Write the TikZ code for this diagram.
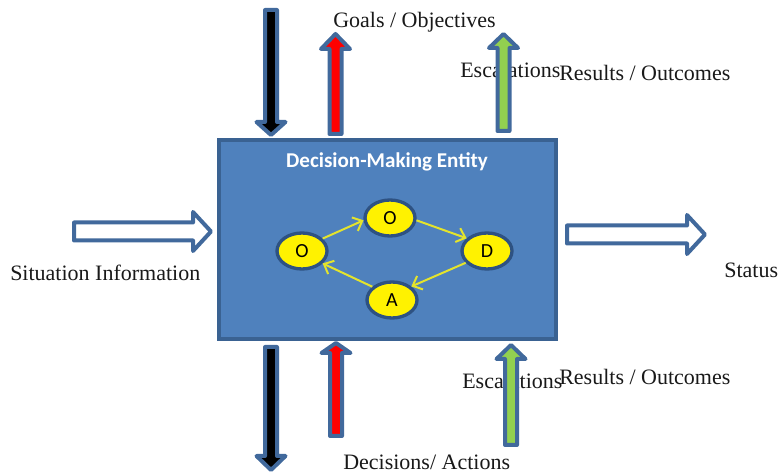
\documentclass[tikz,border=0pt]{standalone}
\usepackage{fontspec}
\setmainfont{Liberation Serif}
\newfontfamily\calibri{Carlito}
\usetikzlibrary{arrows.meta,shapes.geometric}

\definecolor{boxfill}{HTML}{4F81BD}
\definecolor{boxline}{HTML}{3A6292}
\definecolor{arrowline}{HTML}{41699C}
\definecolor{ringline}{HTML}{2E5282}
\definecolor{loopline}{HTML}{E4E42C}
\definecolor{escgreen}{HTML}{92D050}

\tikzset{
  caption/.style={font=\fontsize{16.5}{18}\selectfont, inner sep=0pt,
    anchor=base west, text=black!90},
  entity/.style={rectangle, fill=boxfill, draw=boxline, line width=3pt,
    minimum width=252.75pt, minimum height=149.25pt, inner sep=0pt},
  stage/.style={ellipse, fill=yellow, draw=ringline, line width=2.5pt,
    minimum width=37.5pt, minimum height=27pt, inner sep=0pt,
    font=\calibri\fontsize{15}{15}\selectfont},
  loop/.style={draw=loopline, line width=1.5pt,
    -{Straight Barb[length=6pt,width=11pt]}},
  blockline/.style={draw=arrowline, line width=3pt, line join=round},
  % vertical block arrow: tail y, shoulder y, tip y, fill colour
  pics/varrow/.style n args={4}{code={
    \path[blockline, fill=#4] (-6,#1) -- (-6,#2) -- (-14.5,#2) -- (0,#3)
      -- (14.5,#2) -- (6,#2) -- (6,#1) -- cycle;}},
  % horizontal hollow block arrow: tail x, shoulder x, tip x
  pics/harrow/.style n args={3}{code={
    \path[blockline, fill=white] (#1,-9) -- (#2,-9) -- (#2,-19.5) -- (#3,0)
      -- (#2,19.5) -- (#2,9) -- (#1,9) -- cycle;}},
}

\begin{document}
\begin{tikzpicture}[x=0.75pt, y=-0.75pt]
\useasboundingbox (0,0) rectangle (778,473);

% the decision-making entity
\node[entity] (box) at (387.5,239.5) {};
\node[font=\calibri\bfseries\fontsize{15.8}{16}\selectfont, text=white,
  anchor=base, inner sep=0pt] (title) at (387,168) {Decision-Making Entity};

% OODA loop
\node[stage] (ol) at (302,251) {O};
\node[stage] (ot) at (390,218) {O};
\node[stage] (d)  at (487,251) {D};
\node[stage] (a)  at (392,300) {A};
\draw[loop] (ol.31)  -- (ot.185);
\draw[loop] (ot.355) -- (d.148);
\draw[loop] (d.209)  -- (a.35);
\draw[loop] (a.146)  -- (ol.329);

% labels
\node[caption] (goals)  at (333,28)  {Goals / Objectives};
\node[caption] (esctop) at (460,78)  {Escalations};
\node[caption] (restop) at (559,81)  {Results / Outcomes};
\node[caption] (sit)    at (10,281)  {Situation Information};
\node[caption] (status) at (724,278) {Status};
\node[caption] (escbot) at (462,389) {Escalations};
\node[caption] (resbot) at (559,385) {Results / Outcomes};
\node[caption] (dec)    at (343,470) {Decisions/ Actions};

% block arrows above the entity
\pic at (271,0)   {varrow={10}{122}{135}{black}};
\pic at (335.5,0) {varrow={134}{49}{34}{red}};
\pic at (503.5,0) {varrow={131}{48}{34}{escgreen}};

% block arrows below the entity
\pic at (271,0)   {varrow={347}{456}{470}{black}};
\pic at (336,0)   {varrow={436}{353}{343}{red}};
\pic at (511,0)   {varrow={445}{359}{345}{escgreen}};

% hollow arrows in and out
\pic at (0,231.5) {harrow={74}{193}{211}};
\pic at (0,234.5) {harrow={567}{687}{705}};
\end{tikzpicture}
\end{document}
